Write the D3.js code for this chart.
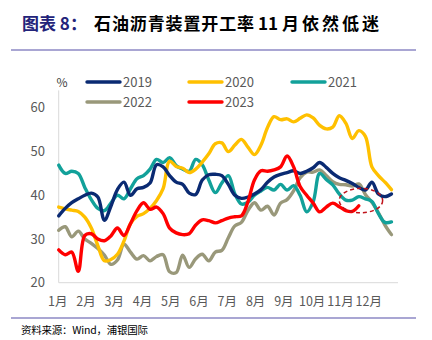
<!DOCTYPE html>
<html><head><meta charset="utf-8">
<script src="https://cdn.jsdelivr.net/npm/d3@7"></script>
<style>
html,body{margin:0;padding:0;background:#fff;}
svg{display:block;}
text{font-family:"Noto Sans CJK SC","Noto Sans",sans-serif;}
</style></head>
<body>
<svg id="c" width="432" height="340"></svg>
<script>
const monthLabels = ["1月","2月","3月","4月","5月","6月","7月","8月","9月","10月","11月","12月"];
const yTicks = [20,30,40,50,60];
const seriesNames = ["2019","2020","2021","2022","2023"];
const seriesColors = ["#0A2A72","#FFC000","#12A19A","#99987A","#FF0000"];
const s2019 = [35.3,37,38.3,39.2,40,40.5,39.6,34.3,37.5,41.3,43,40,41.5,41.8,42.8,47,46.5,44.5,43,42.5,40.5,40.2,43.5,44.7,44.8,44.5,42.5,40,39.3,39.6,40.3,41.3,43,44.2,44.8,45.2,45.6,45,45.5,46.3,47.5,46.4,45,44,43.4,42.7,41.8,41.2,43,40.3,39.7,40.3];
const s2020 = [37.3,36.9,36.6,36.3,35,32.5,28.5,25,25.3,26.5,29.5,33.5,35.2,35.8,37,38.8,41.5,47.8,46.6,46.2,45.2,46,47.6,49.5,51.8,52,50,51.5,52.8,51,49.3,51.5,55.5,58,57.3,57.5,56.8,57.6,58.4,57.7,56,55.2,55.6,58.2,56.5,53,54.8,53.5,46.5,44.5,43,41.3];
const s2021 = [46.9,45,45.5,45,41.8,39,37,36.5,38.2,40,39.2,41.5,43.8,44.5,46,48.2,47.5,48.6,46.8,46,45.5,48.2,47,43.5,40.6,42.8,44.5,40.3,38,38.4,40,41,41.8,41.2,42.5,41.2,42.2,40,36.2,38.5,45,43.6,42.4,40.3,38.9,38.9,39.7,39.2,38.6,35.8,33.8,33.9];
const s2022 = [32,32.8,30.5,31.8,30,29,27.8,26.3,24.2,25.2,28.8,27,25.4,26.2,25,26,26.4,22.5,22.3,26.3,23.5,25.5,26.5,25,27,27.4,30.3,33,33.8,36.5,38.3,36.6,37.5,35.5,38.2,39,41,44,45.3,45.3,45.8,44.5,43.1,42.5,42.4,42.1,42.6,40.2,38.4,36,33.2,31];
const s2023 = [27.5,26.4,27,22.6,30.8,31.2,30,29.6,30.7,32.5,30.8,33.5,36.5,38.3,36.8,37.3,35.8,32.5,31.4,31,31.2,33.2,34.4,34.2,33.7,34.2,34.8,35.1,35.3,38.5,43.5,45.6,45.5,45.8,46.5,49,46.5,42,40,38.2,36.2,37.3,38.2,37.4,36.5,36.3,37.6];
const seriesValues = [s2019,s2020,s2021,s2022,s2023];
const weeksPerYear = 52;
const highlight = {month: 10.69, value: 38.8, halfMonth: 0.767, halfValue: 2.79};

const svg = d3.select("#c");
const x = d3.scaleLinear().domain([0,12]).range([58.7,398]);
const y = d3.scaleLinear().domain([20,64]).range([282.7,90.4]);

// title
function tpart(tx, txt, color, len){
  const t = svg.append("text").attr("x",tx).attr("y",30).attr("fill",color)
    .style("font-size","17px").style("font-weight","bold").text(txt);
  if(len){ t.attr("textLength",len).attr("lengthAdjust","spacing"); }
}
tpart(22,"图表 8：","#23237A",null);
tpart(94,"石油沥青装置开工率","#000",160);
tpart(258,"11","#000",null);
tpart(282,"月依然低迷","#000",97);

svg.append("line").attr("x1",11).attr("x2",416).attr("y1",50).attr("y2",50)
  .attr("stroke","#8C89C4").attr("stroke-width",1.5);
svg.append("line").attr("x1",11).attr("x2",416).attr("y1",318).attr("y2",318)
  .attr("stroke","#8C89C4").attr("stroke-width",1.5);
svg.append("text").attr("x",21).attr("y",334).style("font-size","10.5px").attr("fill","#000")
  .attr("textLength",127).attr("lengthAdjust","spacing")
  .text("资料来源：Wind，浦银国际");

// axes
svg.append("line").attr("x1",x(0)).attr("x2",x(0)).attr("y1",y(64)).attr("y2",y(20))
  .attr("stroke","#D9D9D9").attr("stroke-width",1);
svg.append("line").attr("x1",x(0)).attr("x2",x(12)).attr("y1",y(20)).attr("y2",y(20))
  .attr("stroke","#D9D9D9").attr("stroke-width",1);
svg.selectAll(".yt").data(yTicks).enter().append("text").attr("class","yt")
  .attr("x",45).attr("y",d=>y(d)).attr("dy","0.35em").attr("text-anchor","end")
  .style("font-size","13px").attr("fill","#595959").text(d=>d);
svg.selectAll(".xt").data(monthLabels).enter().append("text").attr("class","xt")
  .attr("x",(d,i)=>x(i)-1).attr("y",302).attr("dy","0.35em").attr("text-anchor","middle")
  .style("font-size","12.5px").attr("fill","#595959").text(d=>d);
svg.append("text").attr("x",62).attr("y",83).attr("dy","0.35em").attr("text-anchor","middle")
  .style("font-size","12px").attr("fill","#404040").text("%");

// lines
const line = d3.line().x((d,i)=>x(i*12/weeksPerYear)).y(d=>y(d)).curve(d3.curveCatmullRom.alpha(0.5));
const order = [3,2,1,0,4];
order.forEach(k=>{
  svg.append("path").datum(seriesValues[k]).attr("d",line).attr("fill","none")
    .attr("stroke",seriesColors[k]).attr("stroke-width",3.4).attr("stroke-linejoin","round").attr("stroke-linecap","round");
});

// highlight ellipse
svg.append("ellipse").attr("cx",x(highlight.month)).attr("cy",y(highlight.value))
  .attr("rx",x(highlight.halfMonth)-x(0)).attr("ry",y(20)-y(20+highlight.halfValue))
  .attr("fill","none").attr("stroke","#C0141C").attr("stroke-width",1.5).attr("stroke-dasharray","4,3");

// legend
const legPos = [[87,82],[189,82],[292,82],[87,102],[189,102]];
seriesNames.forEach((n,k)=>{
  const [lx,ly] = legPos[k];
  svg.append("line").attr("x1",lx).attr("x2",lx+33).attr("y1",ly).attr("y2",ly)
    .attr("stroke",seriesColors[k]).attr("stroke-width",3.4).attr("stroke-linecap","round");
  svg.append("text").attr("x",lx+36).attr("y",ly).attr("dy","0.35em")
    .style("font-size","13px").attr("fill","#595959").text(n);
});
</script>
</body></html>
